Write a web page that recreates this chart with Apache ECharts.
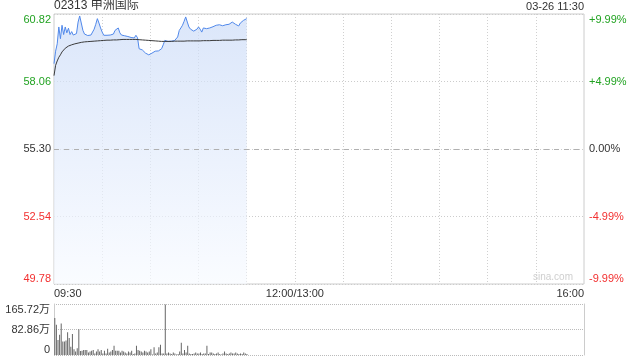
<!DOCTYPE html>
<html>
<head>
<meta charset="utf-8">
<script src="https://cdn.jsdelivr.net/npm/echarts@6/dist/echarts.min.js"></script>
<style>
html,body{margin:0;padding:0;background:#fff;}
#c{width:640px;height:360px;}
</style>
</head>
<body>
<div id="c"></div>
<script>
// ---- data ----
const titleText = '02313 申洲国际';
const timeText = '03-26 11:30';
const prevClose = 55.30;
const priceMin = 49.78;
const priceMax = 60.82;
const priceStep = 2.76;
const pctMin = -9.99;
const pctMax = 9.99;
const pctStep = 4.995;
const volMax = 165.72;
const volStep = 82.86;
const xTickIndex = [0, 150, 330];
const xTickLabels = ['09:30', '12:00/13:00', '16:00'];

const prices = [
58.79,59.30,59.60,60.29,59.81,60.36,59.98,60.29,60.05,60.24,
59.98,60.10,59.96,60.00,60.02,60.49,60.74,60.66,60.15,60.00,
59.96,59.94,59.93,59.96,60.00,60.20,60.40,60.63,60.45,60.25,
60.08,59.95,59.95,59.95,59.95,59.96,59.95,60.00,60.15,60.10,
60.25,60.05,59.96,59.94,59.93,59.93,59.90,59.88,59.86,59.84,
59.84,59.95,59.85,59.40,59.38,59.35,59.27,59.22,59.16,59.15,
59.20,59.22,59.29,59.30,59.31,59.31,59.32,59.40,59.56,59.74,
59.72,59.70,59.70,59.71,59.72,59.73,59.80,59.88,60.15,60.25,
60.36,60.52,60.70,60.49,60.29,60.20,60.15,60.12,60.11,60.20,
60.29,60.20,60.08,60.25,60.33,60.22,60.28,60.25,60.28,60.30,
60.32,60.36,60.42,60.38,60.36,60.34,60.37,60.38,60.36,60.40,
60.42,60.49,60.44,60.40,60.36,60.33,60.45,60.52,60.56,60.54,
60.63
];

const avgPrices = [
58.30,58.72,58.90,59.05,59.15,59.27,59.35,59.42,59.47,59.51,
59.54,59.56,59.58,59.60,59.62,59.63,59.65,59.66,59.67,59.68,
59.69,59.69,59.70,59.70,59.71,59.71,59.72,59.72,59.73,59.73,
59.74,59.74,59.74,59.75,59.75,59.75,59.76,59.76,59.76,59.76,
59.77,59.77,59.77,59.78,59.78,59.78,59.78,59.78,59.78,59.78,
59.78,59.78,59.78,59.77,59.77,59.76,59.76,59.75,59.75,59.74,
59.74,59.73,59.73,59.72,59.72,59.71,59.71,59.70,59.70,59.70,
59.70,59.70,59.70,59.70,59.70,59.71,59.71,59.71,59.71,59.71,
59.71,59.71,59.72,59.72,59.72,59.72,59.72,59.72,59.72,59.72,
59.72,59.72,59.73,59.73,59.73,59.73,59.73,59.73,59.74,59.74,
59.74,59.74,59.74,59.74,59.74,59.75,59.75,59.75,59.75,59.75,
59.75,59.75,59.76,59.76,59.76,59.76,59.76,59.77,59.77,59.77,
59.77
];

// volume in 万
const volumes = [
120,98,49,66,102,44,44,47,74,55,
27,68,19,11,22,84,13,14,16,16,
16,8,11,14,16,5,11,19,11,16,
5,14,5,20,8,11,16,30,14,14,
14,8,14,11,8,5,11,8,14,3,
5,30,16,14,11,8,14,11,8,11,
19,2,25,5,8,25,33,5,5,164,
5,8,5,3,8,5,2,3,11,40,
5,16,8,30,5,3,3,5,8,5,
5,8,3,5,5,30,3,8,8,5,
3,5,8,3,2,5,11,5,3,5,
8,5,5,8,5,3,5,3,8,5,
3
];

// minute categories 09:30..12:00/13:00..16:00
function pad(n){return (n<10?'0':'')+n;}
const categories = [];
for (let m = 0; m <= 150; m++) {
  const t = 9*60+30+m;
  categories.push(m === 150 ? '12:00/13:00' : pad(Math.floor(t/60))+':'+pad(t%60));
}
for (let m = 1; m <= 180; m++) {
  const t = 13*60+m;
  categories.push(pad(Math.floor(t/60))+':'+pad(t%60));
}

const GREEN = '#22a322';
const RED = '#f23030';
const TXT = '#333';
const FONT = '"Liberation Sans", Arial, "Noto Sans CJK SC", sans-serif';

const chart = echarts.init(document.getElementById('c'), null, {renderer:'canvas'});
chart.setOption({
  animation: false,
  textStyle: {fontFamily: FONT},
  title: [
    {text: titleText, left: 54, top: 0, padding: 0,
     textStyle: {fontSize: 12, fontWeight: 'normal', color: TXT, fontFamily: FONT}},
    {text: timeText, right: 56, top: 1, padding: 0,
     textStyle: {fontSize: 11, fontWeight: 'normal', color: TXT, fontFamily: FONT}}
  ],
  graphic: [
    {type: 'text', right: 67, top: 272, silent: true,
     style: {text: 'sina.com', fill: '#cfcfcf', fontSize: 10, fontFamily: FONT}}
  ],
  grid: [
    {left: 54, right: 56, top: 14, height: 270, show: true, borderColor: '#cccccc', borderWidth: 1},
    {left: 54, right: 56, top: 304, height: 51, show: false}
  ],
  xAxis: [
    {type: 'category', gridIndex: 0, data: categories, boundaryGap: false,
     axisLine: {show: false}, axisTick: {show: false},
     axisLabel: {
       interval: function(i){ return xTickIndex.indexOf(i) >= 0; },
       formatter: function(v, i){ const k = xTickIndex.indexOf(i); return k >= 0 ? xTickLabels[k] : ''; },
       color: TXT, fontSize: 11, margin: 4, fontFamily: FONT,
       alignMinLabel: 'left', alignMaxLabel: 'right'
     },
     splitLine: {show: true, interval: function(i){ return i % 30 === 0 && i !== 0 && i !== 330; },
       lineStyle: {color: '#d0d0d0', type: [1, 2], width: 1}}
    },
    {type: 'category', gridIndex: 1, data: categories, boundaryGap: true,
     axisLine: {show: false}, axisTick: {show: false}, axisLabel: {show: false},
     splitLine: {show: false}}
  ],
  yAxis: [
    {type: 'value', gridIndex: 0, min: priceMin, max: priceMax, interval: priceStep,
     axisLine: {show: false}, axisTick: {show: false},
     axisLabel: {
       formatter: function(v){ return v.toFixed(2); },
       color: function(v){ const n = Number(v); return n > prevClose + 1e-6 ? GREEN : (n < prevClose - 1e-6 ? RED : TXT); },
       fontSize: 11, margin: 3, fontFamily: FONT,
       verticalAlignMinLabel: 'bottom', verticalAlignMaxLabel: 'top'
     },
     splitLine: {show: true, lineStyle: {color: '#cccccc', type: [1, 2], width: 1}}
    },
    {type: 'value', gridIndex: 0, position: 'right', min: pctMin, max: pctMax, interval: pctStep,
     axisLine: {show: false}, axisTick: {show: false},
     axisLabel: {
       formatter: function(v){
         const a = Math.floor(Math.abs(v)*100 + 1e-6)/100;
         const s = v > 1e-9 ? '+' : (v < -1e-9 ? '-' : '');
         return s + a.toFixed(2) + '%';
       },
       color: function(v){ const n = Number(v); return n > 1e-9 ? GREEN : (n < -1e-9 ? RED : TXT); },
       fontSize: 11, margin: 5, fontFamily: FONT,
       verticalAlignMinLabel: 'bottom', verticalAlignMaxLabel: 'top'
     },
     splitLine: {show: false}
    },
    {type: 'value', gridIndex: 1, min: 0, max: volMax, interval: volStep,
     axisLine: {show: true, lineStyle: {color: '#cccccc'}}, axisTick: {show: false},
     axisLabel: {
       formatter: function(v){ return v === 0 ? '0' : v.toFixed(2) + '万'; },
       color: TXT, fontSize: 11, margin: 4, fontFamily: FONT,
       verticalAlignMinLabel: 'bottom', verticalAlignMaxLabel: 'top'
     },
     splitLine: {show: true, lineStyle: {color: '#bbbbbb', type: [1, 1], width: 1}}
    },
    {type: 'value', gridIndex: 1, position: 'right', min: 0, max: volMax, interval: volStep,
     axisLine: {show: true, lineStyle: {color: '#cccccc'}}, axisTick: {show: false},
     axisLabel: {show: false}, splitLine: {show: false}
    }
  ],
  series: [
    {type: 'line', name: 'price', xAxisIndex: 0, yAxisIndex: 0, data: prices,
     showSymbol: false, symbol: 'none', silent: true,
     lineStyle: {color: '#5088ea', width: 1},
     areaStyle: {origin: 'start', color: new echarts.graphic.LinearGradient(0, 0, 0, 1, [
       {offset: 0, color: '#cbdbf7'}, {offset: 1, color: '#f7faff'}])},
     markLine: {silent: true, symbol: 'none', animation: false,
       label: {show: false},
       lineStyle: {color: '#b0b0b0', type: [5, 5], width: 1},
       data: [{yAxis: prevClose}]}
    },
    {type: 'line', name: 'avg', xAxisIndex: 0, yAxisIndex: 0, data: avgPrices,
     showSymbol: false, symbol: 'none', silent: true,
     lineStyle: {color: '#3a3a3a', width: 1}},
    {type: 'bar', name: 'vol', xAxisIndex: 1, yAxisIndex: 2, data: volumes,
     barWidth: 1, silent: true, itemStyle: {color: '#666'}}
  ]
});
</script>
</body>
</html>
